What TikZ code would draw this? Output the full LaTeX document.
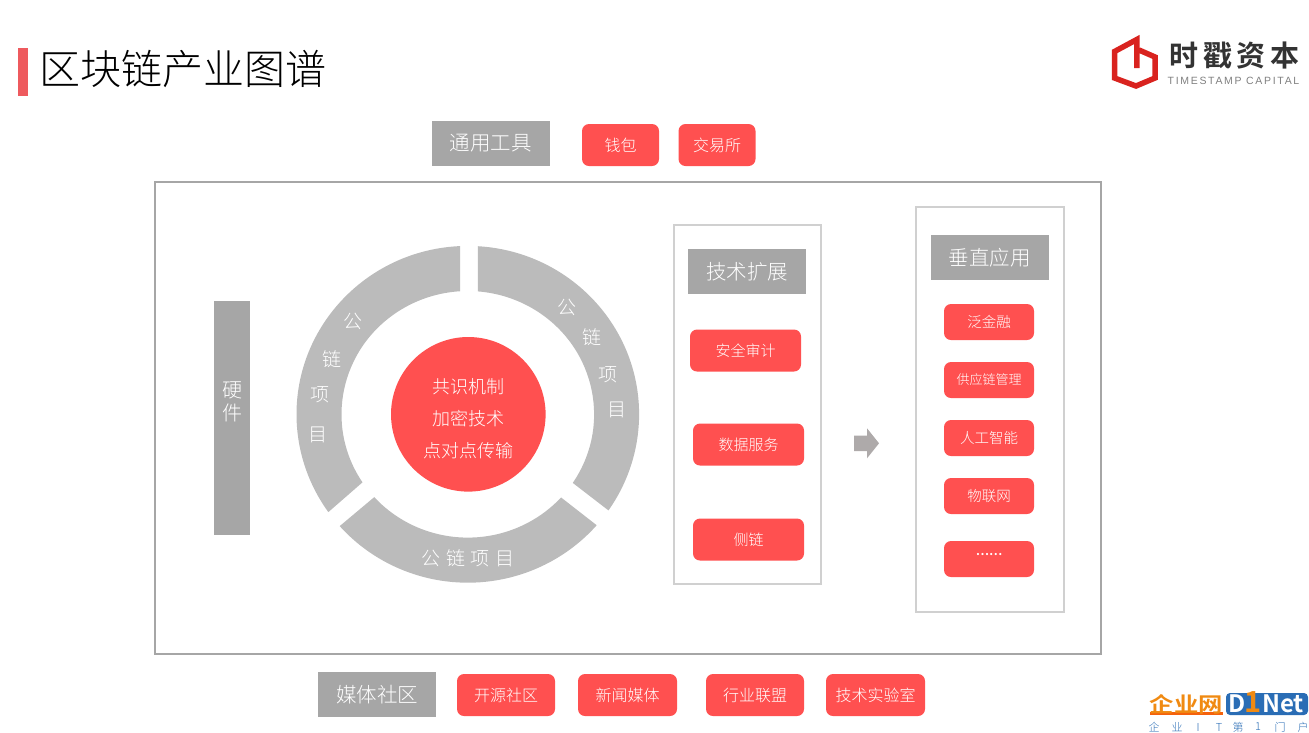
\documentclass[tikz,border=0pt]{standalone}
\usepackage{fontspec}
\usetikzlibrary{calc}
\setmainfont{Noto Sans CJK SC}[UprightFont=* Light, BoldFont=* Bold]
\newfontfamily\logofont[LetterSpace=16]{Liberation Sans}
\newfontfamily\logocn[LetterSpace=16]{Noto Sans CJK SC Bold}
\definecolor{chainred}{HTML}{FF5050}
\definecolor{headgray}{HTML}{A6A6A6}
\definecolor{ringgray}{HTML}{BBBBBB}
\definecolor{panelgray}{HTML}{D0D0D0}
\definecolor{arrowgray}{HTML}{AEAAAA}
\definecolor{barred}{HTML}{EE5A5E}
\definecolor{logored}{HTML}{D9231F}
\definecolor{netblue}{HTML}{2A6DB5}
\definecolor{netorange}{HTML}{F08A12}
\tikzset{
    headbox/.style={fill=headgray, text=white, inner sep=0pt, minimum width=118pt, minimum height=45pt, font=\fontsize{20.5}{25}\selectfont},
    redbox/.style={fill=chainred, text=white, rounded corners=7pt, inner sep=0pt, minimum height=42pt, font=\fontsize{16}{18}\selectfont},
    extbox/.style={redbox, minimum width=111pt, font=\fontsize{15}{18}\selectfont},
    appbox/.style={redbox, minimum width=90pt, minimum height=36pt, font=\fontsize{14.5}{17}\selectfont},
    ringtext/.style={text=white, inner sep=0pt, yshift=-1pt, font=\fontsize{19}{22}\selectfont},
    panel/.style={draw=panelgray, line width=2pt},
    portal/.style={text=netblue, inner sep=0pt, font=\fontsize{11}{13}\selectfont}
}
\begin{document}
\begin{tikzpicture}[x=1pt, y=1pt]
    \useasboundingbox (0,0) rectangle (1309,-732);

    % the title
    \fill[barred] (18,-48) rectangle (28,-96);
    \node[anchor=west, inner sep=0pt, font=\fontsize{41}{48}\selectfont] (title) at (39,-69) {区块链产业图谱};

    % the logo on the right
    \draw[logored, line width=5.5pt] (1139,-50) -- (1155,-57) -- (1155,-78) -- (1136,-86) -- (1114.5,-78) -- (1114.5,-51.5) -- (1136.8,-39.5) -- (1136.8,-68);
    \node[inner sep=0pt, text=black!80, font=\logocn\fontsize{29}{32}\selectfont] (logoname) at (1234.5,-55.5) {时戳资本};
    \node[inner sep=0pt, text=black!50, font=\logofont\fontsize{10.5}{12}\selectfont] (logosub) at (1233.5,-81) {TIMESTAMP CAPITAL};

    % the tools row
    \node[headbox] (tools) at (490.5,-143.5) {通用工具};
    \node[redbox, minimum width=77pt] (wallet) at (620.5,-145) {钱包};
    \node[redbox, minimum width=77pt] (exchange) at (717,-145) {交易所};

    % the big frame and the two panels
    \draw[headgray, line width=2pt] (155,-182) rectangle (1101,-654);
    \draw[panel] (674,-225) rectangle (821,-584);
    \draw[panel] (916,-207) rectangle (1064,-612);

    % the hardware bar
    \fill[headgray] (214,-301) rectangle (250,-535);
    \node[text=white, inner sep=0pt, align=center, font=\fontsize{20}{23.5}\selectfont] (hardware) at (232,-402) {硬\\件};

    % the ring, three pieces
    \coordinate (mid) at (467.8,-414.3);
    \fill[ringgray] ($(mid)+(92.6:171.3 and 168.4)$) arc (92.6:215.5:171.3 and 168.4) -- ($(mid)+(213.5:126.3 and 123.3)$) arc (213.5:93.5:126.3 and 123.3) -- cycle;
    \fill[ringgray] ($(mid)+(86.6:171.3 and 168.4)$) arc (86.6:-34.8:171.3 and 168.4) -- ($(mid)+(-33.8:126.3 and 123.3)$) arc (-33.8:85.4:126.3 and 123.3) -- cycle;
    \fill[ringgray] ($(mid)+(221.6:171.3 and 168.4)$) arc (221.6:318.8:171.3 and 168.4) -- ($(mid)+(317.6:126.3 and 123.3)$) arc (317.6:222.2:126.3 and 123.3) -- cycle;

    % the texts on the ring
    \node[ringtext] (la) at (353.3,-320.7) {公};
    \node[ringtext] (lb) at (331.7,-357.7) {链};
    \node[ringtext] (lc) at (319.7,-394) {项};
    \node[ringtext] (ld) at (318.3,-433.7) {目};
    \node[ringtext] (ra) at (566.7,-306) {公};
    \node[ringtext] (rb) at (591.7,-335.7) {链};
    \node[ringtext] (rc) at (608.3,-374) {项};
    \node[ringtext] (rd) at (616.7,-409.3) {目};
    \node[ringtext] (bottom) at (468,-557) {\spaceskip=5.7pt 公 链 项 目};

    % the middle circle
    \node[circle, fill=chainred, inner sep=0pt, minimum size=154.6pt] (core) at (468.3,-414.3) {};
    \node[text=white, inner sep=0pt, align=center, yshift=-4pt, font=\fontsize{18}{32}\selectfont] (coretext) at (core) {共识机制\\加密技术\\点对点传输};

    % the extension panel
    \node[headbox] (ext) at (747,-271.5) {技术扩展};
    \node[extbox] (audit) at (745.5,-350.5) {安全审计};
    \node[extbox] (data) at (748.5,-444.5) {数据服务};
    \node[extbox] (side) at (748.5,-539.5) {侧链};

    % the block arrow between the panels
    \fill[arrowgray] (854,-435.7) -- (867,-435.7) -- (867,-428.3) -- (879,-443.3) -- (867,-458.3) -- (867,-451) -- (854,-451) -- cycle;

    % the application panel
    \node[headbox] (apps) at (989.5,-257.5) {垂直应用};
    \node[appbox] (finance) at (989,-322) {泛金融};
    \node[appbox, font=\fontsize{13}{15}\selectfont] (supply) at (989,-380) {供应链管理};
    \node[appbox] (ai) at (989,-438) {人工智能};
    \node[appbox] (iot) at (989,-496) {物联网};
    \node[appbox, font=\bfseries\fontsize{12}{15}\selectfont] (more) at (989,-559) {\raisebox{10pt}{……}};

    % the media row
    \node[headbox] (media) at (377,-694.5) {媒体社区};
    \node[redbox, minimum width=98pt] (source) at (506,-695) {开源社区};
    \node[redbox, minimum width=99pt] (news) at (627.5,-695) {新闻媒体};
    \node[redbox, minimum width=98pt] (league) at (755,-695) {行业联盟};
    \node[redbox, minimum width=99pt] (lab) at (875.5,-695) {技术实验室};

    % the second logo, bottom right
    \fill[netorange!70!red] (1150,-712) rectangle (1223,-715);
    \node[inner sep=0pt, text=netorange, font=\bfseries\fontsize{21}{24}\selectfont] (netcn) at (1186.5,-704.5) {\scalebox{1.16}[1]{企业网}};
    \fill[netblue, rounded corners=4pt] (1226,-693) rectangle (1308,-715);
    \node[anchor=west, inner sep=0pt, text=white, font=\bfseries\fontsize{24}{26}\selectfont] (netd) at (1228.5,-704) {D};
    \node[inner sep=0pt, text=netorange, font=\bfseries\fontsize{29}{34}\selectfont] (netone) at (1253.5,-702) {1};
    \node[anchor=west, inner sep=0pt, text=white, font=\bfseries\fontsize{24}{26}\selectfont] (netrest) at (1262,-704) {Net};
    \node[portal] (pa) at (1154,-727) {企};
    \node[portal] (pb) at (1177,-727) {业};
    \node[portal] (pc) at (1198,-727) {I};
    \node[portal] (pd) at (1219,-727) {T};
    \node[portal] (pe) at (1238,-727) {第};
    \node[portal] (pf) at (1258,-727) {1};
    \node[portal] (pg) at (1280,-727) {门};
    \node[portal] (ph) at (1303,-727) {户};
\end{tikzpicture}
\end{document}
